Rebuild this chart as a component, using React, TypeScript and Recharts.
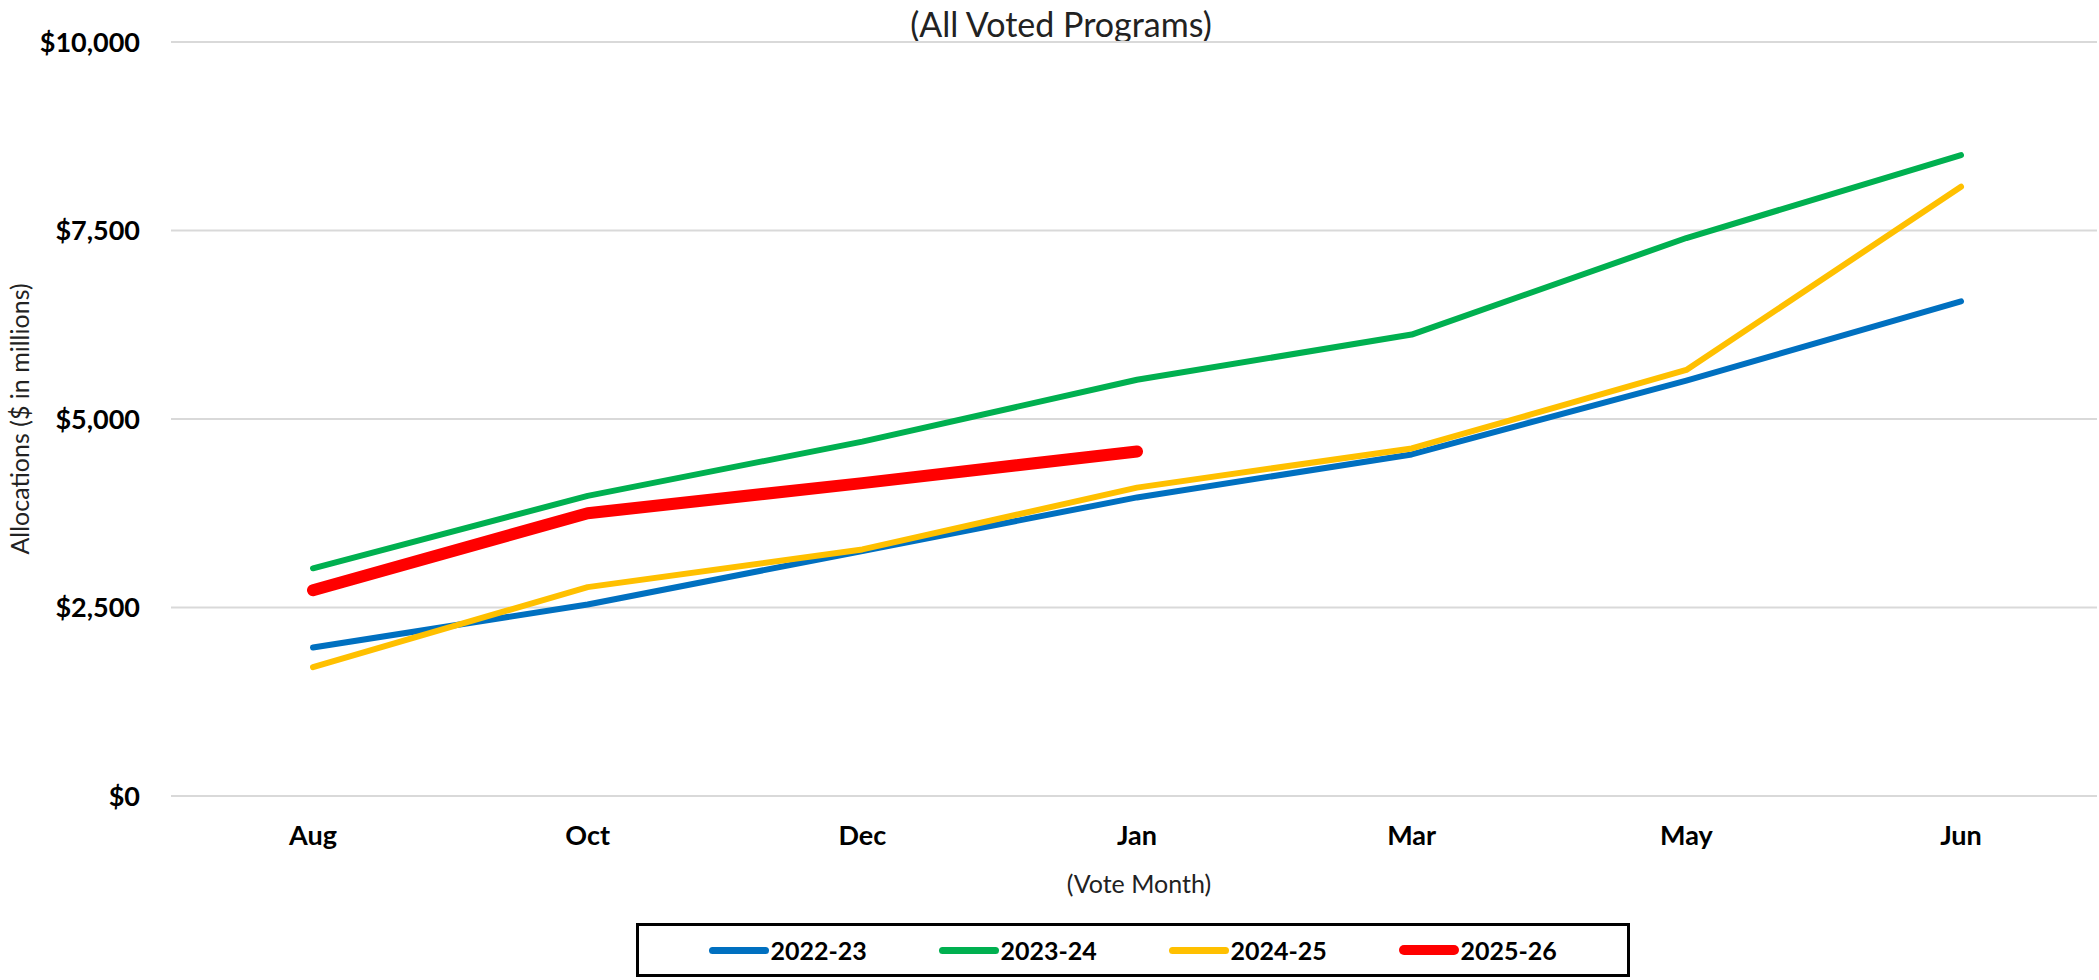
import { CartesianGrid, Label, Legend, Line, LineChart, XAxis, YAxis } from "recharts";

// vote months (x categories)
const months = ["Aug", "Oct", "Dec", "Jan", "Mar", "May", "Jun"];

// cumulative allocations, $ millions
const fy2223 = [1970, 2540, 3250, 3960, 4530, 5510, 6560];
const fy2324 = [3020, 3980, 4700, 5520, 6120, 7400, 8500];
const fy2425 = [1710, 2770, 3270, 4090, 4610, 5650, 8080];
const fy2526 = [2730, 3750, 4150, 4570, null, null, null];

const yTicks = [0, 2500, 5000, 7500, 10000];

const seriesNames = ["2022-23", "2023-24", "2024-25", "2025-26"];

const FONT = "Lato, 'Open Sans', sans-serif";

const series = [
  { key: "fy2223", name: seriesNames[0], color: "#0070C0", width: 6, swatch: 7 },
  { key: "fy2324", name: seriesNames[1], color: "#00B050", width: 6, swatch: 7 },
  { key: "fy2425", name: seriesNames[2], color: "#FFC000", width: 6, swatch: 7 },
  { key: "fy2526", name: seriesNames[3], color: "#FF0000", width: 12, swatch: 10 },
];

const data = months.map((month, i) => ({
  month,
  fy2223: fy2223[i],
  fy2324: fy2324[i],
  fy2425: fy2425[i],
  fy2526: fy2526[i],
}));

function money(v: number): string {
  return `$${v.toLocaleString("en-US")}`;
}

function LegendBox() {
  return (
    <div
      style={{
        boxSizing: "border-box",
        width: 994,
        height: 54,
        border: "3px solid #000",
        background: "#fff",
        display: "flex",
        alignItems: "center",
        justifyContent: "center",
        gap: 71,
      }}
    >
      {series.map((s) => (
        <div key={s.key} style={{ display: "flex", alignItems: "center", width: 159 }}>
          <span
            style={{
              display: "inline-block",
              width: 60,
              height: s.swatch,
              borderRadius: s.swatch / 2,
              background: s.color,
              marginRight: 2,
            }}
          />
          <span style={{ fontFamily: FONT, fontWeight: 700, fontSize: 25, color: "#000", lineHeight: "30px" }}>
            {s.name}
          </span>
        </div>
      ))}
    </div>
  );
}

export default function App() {
  return (
    <div style={{ position: "absolute", left: 0, top: 0, width: 2099, height: 980, background: "#fff" }}>
      <div
        style={{
          position: "absolute",
          left: 761,
          top: 7,
          width: 600,
          textAlign: "center",
          fontFamily: FONT,
          fontSize: 34,
          lineHeight: "34px",
          color: "#222",
        }}
      >
        (All Voted Programs)
      </div>
      <LineChart width={2099} height={980} data={data} margin={{ top: 42, right: 2, bottom: 3, left: 0 }}>
        <CartesianGrid vertical={false} stroke="#d9d9d9" strokeWidth={2} />
        <XAxis
          dataKey="month"
          height={127}
          padding={{ left: 142, right: 136 }}
          tickLine={false}
          axisLine={{ stroke: "#d9d9d9", strokeWidth: 2 }}
          tickSize={0}
          tickMargin={30}
          tick={{ fill: "#000", fontFamily: FONT, fontWeight: 700, fontSize: 27 }}
        >
          <Label
            value="(Vote Month)"
            position="insideTop"
            offset={79}
            dx={5}
            style={{ fill: "#222", fontFamily: FONT, fontSize: 25 }}
          />
        </XAxis>
        <YAxis
          width={171}
          domain={[0, 10000]}
          ticks={yTicks}
          tickFormatter={money}
          tickLine={false}
          axisLine={false}
          tickSize={0}
          tickMargin={31}
          tick={{ fill: "#000", fontFamily: FONT, fontWeight: 700, fontSize: 27 }}
        >
          <Label
            value="Allocations ($ in millions)"
            angle={-90}
            position="insideLeft"
            offset={20}
            textAnchor="middle"
            style={{ fill: "#222", fontFamily: FONT, fontSize: 25 }}
          />
        </YAxis>
        <Legend
          verticalAlign="bottom"
          content={() => <LegendBox />}
          wrapperStyle={{ left: 636, bottom: 3, width: 994, height: 54 }}
        />
        {series.map((s) => (
          <Line
            key={s.key}
            type="linear"
            dataKey={s.key}
            name={s.name}
            stroke={s.color}
            strokeWidth={s.width}
            strokeLinecap="round"
            strokeLinejoin="round"
            dot={false}
            activeDot={false}
            isAnimationActive={false}
          />
        ))}
      </LineChart>
    </div>
  );
}
